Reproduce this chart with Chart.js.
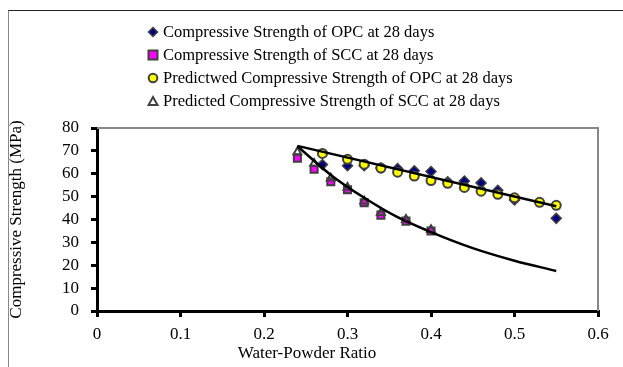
<!DOCTYPE html>
<html lang="en">
<head>
  <meta charset="UTF-8" />
  <title>Compressive Strength vs Water-Powder Ratio</title>
  <script src="https://cdn.jsdelivr.net/npm/chart.js"></script>
  <style>
    body { margin: 0; background: #fff; }
    #wrap { position: relative; width: 623px; height: 367px; overflow: hidden; }
    #frame {
      position: absolute; left: 8px; top: 10px; width: 700px; height: 400px;
      border-left: 1px solid #888; border-top: 1px solid #222;
    }
    canvas { position: absolute; left: 0; top: 0; }
    #legend {
      position: absolute; left: 147px; top: 20px;
      font-family: "Liberation Serif", serif; font-size: 16.5px; color: #000;
    }
    .item { height: 23px; line-height: 23px; white-space: nowrap; }
    .mk { display: inline-block; width: 12px; height: 12px; vertical-align: -1px; margin-right: 4px; }
    #xtitle {
      position: absolute; left: 207px; width: 200px; top: 343px; text-align: center;
      font-family: "Liberation Serif", serif; font-size: 17px; line-height: 20px; color: #000;
    }
  </style>
</head>
<body>
  <div id="wrap">
    <div id="frame"></div>
    <canvas id="chart" width="623" height="367"></canvas>
    <div id="legend"></div>
    <div id="xtitle"></div>
  </div>

  <script>
    // series labels
    const seriesNames = [
      'Compressive Strength of OPC at 28 days',
      'Compressive Strength of SCC at 28 days',
      'Predictwed Compressive Strength of OPC at 28 days',
      'Predicted Compressive Strength of SCC at 28 days'
    ];
    const xTitle = 'Water-Powder Ratio';
    const yTitle = 'Compressive Strength (MPa)';

    // measured OPC
    const opcX = [0.27, 0.30, 0.32, 0.34, 0.36, 0.38, 0.40, 0.42, 0.44, 0.46, 0.48, 0.50, 0.55];
    const opcY = [64, 63.5, 63.5, 62.5, 62.3, 61.3, 61, 56.5, 56.8, 56, 52.8, 48.5, 40.5];

    // measured SCC
    const sccX = [0.24, 0.26, 0.28, 0.30, 0.32, 0.34, 0.37, 0.40];
    const sccY = [66.8, 62, 56.5, 53, 47.3, 41.9, 39.3, 35];

    // predicted OPC (circles)
    const predOpcX = [0.27, 0.30, 0.32, 0.34, 0.36, 0.38, 0.40, 0.42, 0.44, 0.46, 0.48, 0.50, 0.53, 0.55];
    const predOpcY = [68.9, 66.3, 64.2, 62.5, 60.7, 59, 57, 55.8, 54, 52.4, 51, 49.5, 47.5, 46.2];

    // predicted SCC (triangles)
    const predSccX = [0.24, 0.26, 0.28, 0.30, 0.32, 0.34, 0.37, 0.40];
    const predSccY = [69.5, 64.5, 58, 54, 48, 43, 40, 35.5];

    // trend lines
    const opcLineX = [0.24, 0.55];
    const opcLineY = [72.2, 45.8];
    const sccCurveX = [0.24, 0.28, 0.32, 0.36, 0.40, 0.45, 0.50, 0.55];
    const sccCurveY = [72, 59.5, 49.5, 41, 34.5, 27.5, 22, 17.5];

    const xTicks = [0, 0.1, 0.2, 0.3, 0.4, 0.5, 0.6];
    const yTicks = [0, 10, 20, 30, 40, 50, 60, 70, 80];

    const pts = (xs, ys) => xs.map((x, i) => ({ x: x, y: ys[i] }));
    const edge = '#404040';
    const font = { family: '"Liberation Serif", serif', size: 17 };

    // legend
    const marks = [
      '<svg class="mk" viewBox="0 0 12 12"><polygon points="6,1.5 10.5,6 6,10.5 1.5,6" fill="#000080" stroke="#404040" stroke-width="1.5"/></svg>',
      '<svg class="mk" viewBox="0 0 12 12"><rect x="1.5" y="1.5" width="9" height="9" fill="#ff00ff" stroke="#404040" stroke-width="2"/></svg>',
      '<svg class="mk" viewBox="0 0 12 12"><circle cx="6" cy="6" r="4.3" fill="#ffff00" stroke="#404040" stroke-width="2"/></svg>',
      '<svg class="mk" viewBox="0 0 12 12"><polygon points="6,2 10.5,10 1.5,10" fill="#fff" stroke="#404040" stroke-width="2"/></svg>'
    ];
    document.getElementById('legend').innerHTML = seriesNames
      .map((n, i) => '<div class="item">' + marks[i] + n + '</div>').join('');
    document.getElementById('xtitle').textContent = xTitle;

    // grey top and right frame of the plot area
    const plotFrame = {
      id: 'plotFrame',
      afterDraw(chart) {
        const a = chart.chartArea, c = chart.ctx;
        c.save();
        c.strokeStyle = '#888';
        c.lineWidth = 2;
        c.beginPath();
        c.moveTo(a.left, a.top);
        c.lineTo(a.right, a.top);
        c.lineTo(a.right, a.bottom);
        c.stroke();
        c.restore();
      }
    };

    new Chart(document.getElementById('chart'), {
      type: 'scatter',
      data: {
        datasets: [
          { label: 'opcLine', data: pts(opcLineX, opcLineY), showLine: true, borderColor: '#000', borderWidth: 2.5, pointRadius: 0, order: 0 },
          { label: 'sccCurve', data: pts(sccCurveX, sccCurveY), showLine: true, borderColor: '#000', borderWidth: 2.5, pointRadius: 0, cubicInterpolationMode: 'monotone', order: 0 },
          { label: seriesNames[3], data: pts(predSccX, predSccY), pointStyle: 'triangle', pointRadius: 4.5, backgroundColor: 'rgba(0,0,0,0)', borderColor: edge, pointBorderWidth: 2, order: 1 },
          { label: seriesNames[2], data: pts(predOpcX, predOpcY), pointStyle: 'circle', pointRadius: 4.5, backgroundColor: '#ffff00', borderColor: edge, pointBorderWidth: 2, order: 2 },
          { label: seriesNames[1], data: pts(sccX, sccY), pointStyle: 'rect', pointRadius: 5, backgroundColor: '#ff00ff', borderColor: edge, pointBorderWidth: 2, order: 3 },
          { label: seriesNames[0], data: pts(opcX, opcY), pointStyle: 'rectRot', pointRadius: 5, backgroundColor: '#000080', borderColor: edge, pointBorderWidth: 1.5, order: 4 }
        ]
      },
      options: {
        responsive: false,
        animation: false,
        layout: { padding: { top: 128, right: 25, left: 0, bottom: 0 } },
        plugins: { legend: { display: false }, tooltip: { enabled: false } },
        scales: {
          x: {
            type: 'linear', min: 0, max: 0.6,
            afterBuildTicks: s => { s.ticks = xTicks.map(v => ({ value: v })); },
            afterFit: s => { s.height = 56; },
            border: { color: '#000', width: 3 },
            grid: { drawOnChartArea: false, drawTicks: true, tickLength: 6, color: '#000', lineWidth: 3 },
            ticks: { color: '#000', font: font, padding: 7, maxRotation: 0, autoSkip: false },
            title: { display: false }
          },
          y: {
            type: 'linear', min: 0, max: 80,
            afterBuildTicks: s => { s.ticks = yTicks.map(v => ({ value: v })); },
            afterFit: s => { s.width = 97; },
            border: { color: '#000', width: 3 },
            grid: { drawOnChartArea: false, drawTicks: true, tickLength: 6, color: '#000', lineWidth: 3 },
            ticks: { color: '#000', font: font, padding: 12, autoSkip: false },
            title: { display: true, text: yTitle, color: '#000', font: font, padding: { top: 6, bottom: 0 } }
          }
        }
      },
      plugins: [plotFrame]
    });
  </script>
</body>
</html>
